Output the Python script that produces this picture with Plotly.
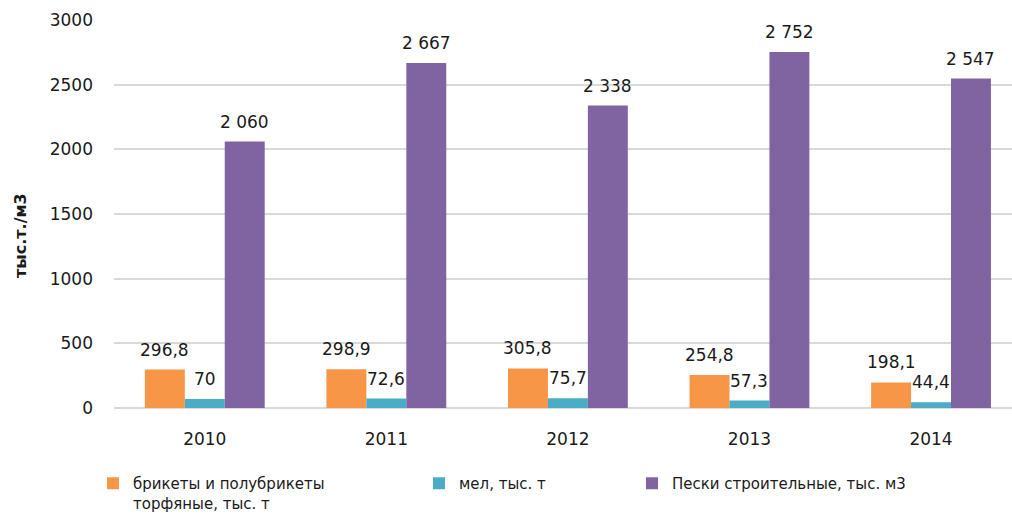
import plotly.graph_objects as go

years = ["2010", "2011", "2012", "2013", "2014"]
series_names = [
    "брикеты и полубрикеты<br>торфяные, тыс. т",
    "мел, тыс. т",
    "Пески строительные, тыс. м3",
]
briquettes = [296.8, 298.9, 305.8, 254.8, 198.1]
chalk = [70, 72.6, 75.7, 57.3, 44.4]
sand = [2060, 2667, 2338, 2752, 2547]
y_ticks = [0, 500, 1000, 1500, 2000, 2500, 3000]
y_title = "тыс.т./м3"

colors = ["#F79646", "#4BACC6", "#8064A2"]
FONT = "DejaVu Sans"
TXT = "#1a1a1a"

W, H = 1012, 515
ML, MR, MT, MB = 114, 0, 20, 107
BARGAP = 0.34
XRANGE = [-0.5, 4.446]

def fmt(v):
    if v >= 1000:
        return f"{v:,.0f}".replace(",", " ")
    return f"{v:g}".replace(".", ",")

fig = go.Figure()
data = [briquettes, chalk, sand]
legends = ["legend", "legend2", "legend3"]
for i, (name, vals) in enumerate(zip(series_names, data)):
    fig.add_trace(go.Bar(
        x=years, y=vals, name=name,
        marker=dict(color=colors[i], line=dict(width=0)),
        legend=legends[i], hoverinfo="x+y", showlegend=True,
    ))

# data labels
bw = (1 - BARGAP) / 3
for i, vals in enumerate(data):
    for j, v in enumerate(vals):
        fig.add_annotation(
            x=j + (i - 1) * bw, y=v, xref="x", yref="y",
            text=fmt(v), showarrow=False, yanchor="middle", yshift=20,
            font=dict(family=FONT, size=17, color=TXT),
        )

# y-axis title
fig.add_annotation(
    x=(20 - ML) / (W - ML - MR), y=(H - MB - 236) / (H - MT - MB),
    xref="paper", yref="paper", xanchor="center", yanchor="middle",
    text=f"<b>{y_title}</b>", textangle=-90, showarrow=False,
    font=dict(family=FONT, size=16, color=TXT),
)

leg_common = dict(orientation="v", yref="container", xref="container",
                  yanchor="top", xanchor="left", bgcolor="rgba(0,0,0,0)",
                  font=dict(family=FONT, size=15, color=TXT), valign="top")
ly = 1 - 467 / H

fig.update_layout(
    width=W, height=H,
    showlegend=True,
    margin=dict(l=ML, r=MR, t=MT, b=MB, autoexpand=False),
    paper_bgcolor="white", plot_bgcolor="white",
    barmode="group", bargap=BARGAP, bargroupgap=0,
    font=dict(family=FONT, size=17, color=TXT),
    xaxis=dict(type="category", range=XRANGE, showgrid=False, showline=False,
               ticks="outside", ticklen=16, tickcolor="rgba(0,0,0,0)",
               tickfont=dict(family=FONT, size=17, color=TXT), fixedrange=True),
    yaxis=dict(range=[0, 3000], tickvals=y_ticks, showgrid=True,
               gridcolor="#D9D9D9", gridwidth=2, zeroline=True,
               zerolinecolor="#D9D9D9", zerolinewidth=2, showline=False,
               ticklabelstandoff=20,
               tickfont=dict(family=FONT, size=17, color=TXT), fixedrange=True),
    legend=dict(x=93 / W, y=ly, **leg_common),
    legend2=dict(x=419 / W, y=ly, **leg_common),
    legend3=dict(x=632 / W, y=ly, **leg_common),
)

fig.write_html(
    "out.html",
    config={"displayModeBar": False},
    post_script="document.body.style.margin='0';document.body.style.overflow='hidden';",
)
